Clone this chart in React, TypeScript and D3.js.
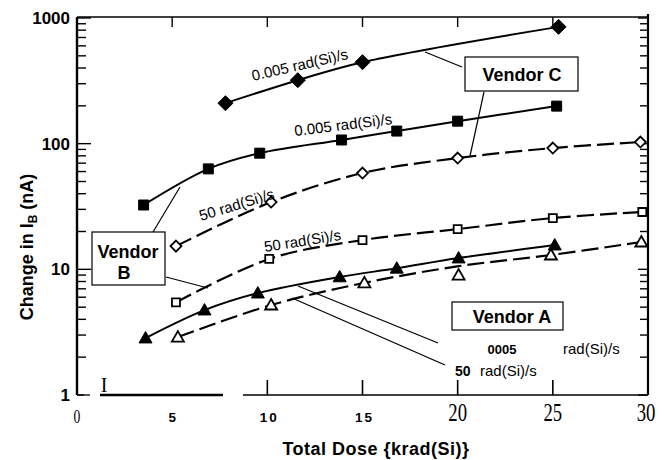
import React from "react";
import * as d3 from "d3";

const W = 664;
const H = 460;

// ---- data (Total dose in krad(Si), change in IB in nA) ----
const cFilledDiamondX = [7.8, 11.6, 15.0, 25.3];
const cFilledDiamondY = [210, 320, 445, 850];

const bFilledSquareX = [3.5, 6.9, 9.6, 13.9, 16.8, 20.0, 25.2];
const bFilledSquareY = [32.5, 63, 84, 107, 126, 151, 199];

const cOpenDiamondX = [5.2, 10.2, 15.0, 20.0, 25.0, 29.6];
const cOpenDiamondY = [15.3, 34.3, 58.4, 76.8, 92.3, 103];

const bOpenSquareX = [5.2, 10.1, 15.0, 20.0, 25.0, 29.7];
const bOpenSquareY = [5.45, 12.1, 17.1, 20.9, 25.6, 28.6];

const aFilledTriX = [3.6, 6.7, 9.5, 13.8, 16.8, 20.05, 25.1];
const aFilledTriY = [2.84, 4.74, 6.47, 8.7, 10.2, 12.3, 15.6];

const aOpenTriX = [5.3, 10.2, 15.1, 20.05, 24.9, 29.65];
const aOpenTriY = [2.89, 5.2, 7.8, 9.0, 13.0, 16.5];
// the hand-drawn fit for the open triangles does not pass through the 20 krad point
const aOpenTriFitY = [2.89, 5.2, 7.8, 10.6, 13.0, 16.5];

const yMajorTicks = [1, 10, 100, 1000];
const yTickLabels = ["1", "10", "100", "1000"];
const xTopTicks = [5, 10, 15, 20, 25];
const xBottomTicks = [10, 15, 20, 25];
const xSansTicks = [5, 10, 15];
const xSansLabels = ["5", "10", "15"];
const xSerifTicks = [0, 20, 25, 30];
const xSerifLabels = ["0", "20", "25", "30"];

const SANS = "'Liberation Sans', Arial, Helvetica, sans-serif";
const SERIF = "'Liberation Serif', 'Times New Roman', serif";

const zip = (xs: number[], ys: number[]) => xs.map((x, i) => [x, ys[i]] as [number, number]);

const diamondPath = (r: number) => `M0,${-r}L${r},0L0,${r}L${-r},0Z`;
const squarePath = (s: number) => `M${-s},${-s}H${s}V${s}H${-s}Z`;
const trianglePath = (r: number) => `M0,${-r}L${r},${r * 0.75}L${-r},${r * 0.75}Z`;

export default function App() {
  const x = d3.scaleLinear().domain([0, 30]).range([77, 648]);
  const y = d3.scaleLog().domain([1, 1000]).range([395, 18]);

  const line = d3
    .line<[number, number]>()
    .x((d) => x(d[0]))
    .y((d) => y(d[1]))
    .curve(d3.curveCatmullRom.alpha(0.5));

  const minor: number[] = [];
  [1, 10, 100].forEach((dec) => {
    for (let k = 2; k <= 9; k++) minor.push(k * dec);
  });

  const series = [
    { xs: cFilledDiamondX, ys: cFilledDiamondY, fit: cFilledDiamondY, dash: undefined, shape: diamondPath(7.5), fill: "#000" },
    { xs: bFilledSquareX, ys: bFilledSquareY, fit: bFilledSquareY, dash: undefined, shape: squarePath(5), fill: "#000" },
    { xs: cOpenDiamondX, ys: cOpenDiamondY, fit: cOpenDiamondY, dash: "17,6", shape: diamondPath(5.5), fill: "#fff" },
    { xs: bOpenSquareX, ys: bOpenSquareY, fit: bOpenSquareY, dash: "17,6", shape: squarePath(4), fill: "#fff" },
    { xs: aFilledTriX, ys: aFilledTriY, fit: aFilledTriY, dash: undefined, shape: trianglePath(6.5), fill: "#000" },
    { xs: aOpenTriX, ys: aOpenTriY, fit: aOpenTriFitY, dash: "17,6", shape: trianglePath(6), fill: "#fff" },
  ];

  const x0 = x(0);
  const x1 = x(30);
  const yTop = y(1000) - 1;
  const yBot = y(1);

  return (
    <svg width={W} height={H} style={{ position: "absolute", left: 0, top: 0 }}>
      <rect x={0} y={0} width={W} height={H} fill="#fff" />

      {/* y ticks */}
      {yMajorTicks.map((v) => (
        <g key={"ym" + v}>
          <path d={`M${x0},${y(v)}H${v === 1 ? x0 + 7 : x0 + 14}`} stroke="#000" strokeWidth={1.4} />
          <path d={`M${x1},${y(v)}H${x1 - 10}`} stroke="#000" strokeWidth={1.4} />
        </g>
      ))}
      {minor.map((v) => (
        <g key={"yn" + v}>
          <path d={`M${x0},${y(v)}H${x0 + 9}`} stroke="#000" strokeWidth={1.4} />
          <path d={`M${x1},${y(v)}H${x1 - 8}`} stroke="#000" strokeWidth={1.4} />
        </g>
      ))}
      {yMajorTicks.map((v, i) => (
        <text
          key={"yl" + v}
          x={70}
          y={y(v) + 6}
          textAnchor="end"
          fontFamily={SANS}
          fontWeight="bold"
          fontSize={17}
          fill="#000"
        >
          {yTickLabels[i]}
        </text>
      ))}

      {/* x ticks */}
      {xTopTicks.map((v) => (
        <path key={"xt" + v} d={`M${x(v)},${yTop}V${yTop + 10}`} stroke="#000" strokeWidth={1.4} />
      ))}
      {xBottomTicks.map((v) => (
        <path key={"xb" + v} d={`M${x(v)},${yBot}V${yBot - 15}`} stroke="#000" strokeWidth={1.6} />
      ))}
      <text x={104} y={392} textAnchor="middle" fontFamily={SERIF} fontSize={20} fill="#000">
        I
      </text>
      {xSansTicks.map((v, i) => (
        <text
          key={"xs" + v}
          x={x(v) + (v === 5 ? 0 : 2)}
          y={422}
          textAnchor="middle"
          fontFamily={SANS}
          fontWeight="bold"
          fontSize={13.5}
          letterSpacing={v === 5 ? 0 : 2}
          fill="#000"
        >
          {xSansLabels[i]}
        </text>
      ))}
      {xSerifTicks.map((v, i) => (
        <text
          key={"xr" + v}
          transform={`translate(${x(v) + (v === 30 ? -2 : 0)},${v === 0 ? 423 : 421}) scale(0.72,1)`}
          textAnchor="middle"
          fontFamily={SERIF}
          fontSize={v === 0 ? 19 : 26}
          fill="#000"
        >
          {xSerifLabels[i]}
        </text>
      ))}

      {/* axis titles */}
      <text
        x={376}
        y={455}
        textAnchor="middle"
        fontFamily={SANS}
        fontWeight="bold"
        fontSize={18}
        letterSpacing={0.5}
        fill="#000"
      >
        Total Dose {"{krad(Si)}"}
      </text>
      <text
        transform="translate(33,247) rotate(-90)"
        textAnchor="middle"
        fontFamily={SANS}
        fontWeight="bold"
        fontSize={18}
        fill="#000"
      >
        Change in I<tspan fontSize={12} dy={4}>B</tspan>
        <tspan dy={-4}> (nA)</tspan>
      </text>

      {/* series */}
      {series.map((s, i) => (
        <path
          key={"l" + i}
          d={line(zip(s.xs, s.fit)) || ""}
          fill="none"
          stroke="#000"
          strokeWidth={s.dash ? 2.2 : 2}
          strokeDasharray={s.dash}
        />
      ))}
      {series.map((s, i) =>
        s.xs.map((xv, j) => (
          <path
            key={"m" + i + "-" + j}
            d={s.shape}
            transform={`translate(${x(xv)},${y(s.ys[j])})`}
            fill={s.fill}
            stroke="#000"
            strokeWidth={s.fill === "#fff" ? 1.8 : 1}
          />
        ))
      )}

      {/* rate labels along curves */}
      <text transform="translate(253,81) rotate(-13)" fontFamily={SANS} fontSize={15} fill="#000">
        0.005 rad(Si)/s
      </text>
      <text transform="translate(295,136) rotate(-7)" fontFamily={SANS} fontSize={15} fill="#000">
        0.005 rad(Si)/s
      </text>
      <text transform="translate(201,221) rotate(-17)" fontFamily={SANS} fontSize={15} fill="#000">
        50 rad(Si)/s
      </text>
      <text transform="translate(265,252) rotate(-9)" fontFamily={SANS} fontSize={15} fill="#000">
        50 rad(Si)/s
      </text>

      {/* Vendor C */}
      <rect x={465} y={57} width={113} height={34} fill="#fff" stroke="#000" strokeWidth={1.2} />
      <text x={522} y={81} textAnchor="middle" fontFamily={SANS} fontWeight="bold" fontSize={18} fill="#000">
        Vendor C
      </text>
      <path d="M462,67L425,52" stroke="#000" strokeWidth={1.2} />
      <path d="M484,92L470,156" stroke="#000" strokeWidth={1.2} />

      {/* Vendor B */}
      <rect x={92} y={232} width={73} height={53} fill="#fff" stroke="#000" strokeWidth={1.2} />
      <text x={128} y={258} textAnchor="middle" fontFamily={SANS} fontWeight="bold" fontSize={18} fill="#000">
        Vendor
      </text>
      <text x={124} y={279} textAnchor="middle" fontFamily={SANS} fontWeight="bold" fontSize={18} fill="#000">
        B
      </text>
      <path d="M180,187L153,232" stroke="#000" strokeWidth={1.2} />
      <path d="M166,277L208,288" stroke="#000" strokeWidth={1.2} />

      {/* Vendor A */}
      <rect x={452} y={302} width={111} height={28} fill="#fff" stroke="#000" strokeWidth={1.2} />
      <text x={512} y={323} textAnchor="middle" fontFamily={SANS} fontWeight="bold" fontSize={18} fill="#000">
        Vendor A
      </text>
      <path d="M298,286L438,343" stroke="#000" strokeWidth={1.3} />
      <path d="M292,298L445,365" stroke="#000" strokeWidth={1.3} />

      <text x={502} y={354} textAnchor="middle" fontFamily={SANS} fontWeight="bold" fontSize={13} fill="#000">
        0005
      </text>
      <text x={563} y={354} fontFamily={SANS} fontSize={15} fill="#000">
        rad(Si)/s
      </text>
      <text x={455} y={376} fontFamily={SANS} fontWeight="bold" fontSize={14} fill="#000">
        50
      </text>
      <text x={480} y={376} fontFamily={SANS} fontSize={15} fill="#000">
        rad(Si)/s
      </text>

      {/* frame, drawn last */}
      <path d={`M${x0},${yTop}H${x1}`} stroke="#000" strokeWidth={1.5} fill="none" />
      <path d={`M${x0},${yTop}V${yBot}`} stroke="#000" strokeWidth={2.4} fill="none" />
      <path d={`M${x1},${yTop - 3}V${yBot}`} stroke="#000" strokeWidth={2.2} fill="none" />
      <path d={`M${x0},${yBot}H${x0 + 13}`} stroke="#000" strokeWidth={1.3} fill="none" />
      <path d={`M${x0 + 23},${yBot}H${x0 + 146}`} stroke="#000" strokeWidth={2.4} fill="none" />
      <path d={`M${x0 + 166},${yBot}H${x1}`} stroke="#000" strokeWidth={1.5} fill="none" />
    </svg>
  );
}
